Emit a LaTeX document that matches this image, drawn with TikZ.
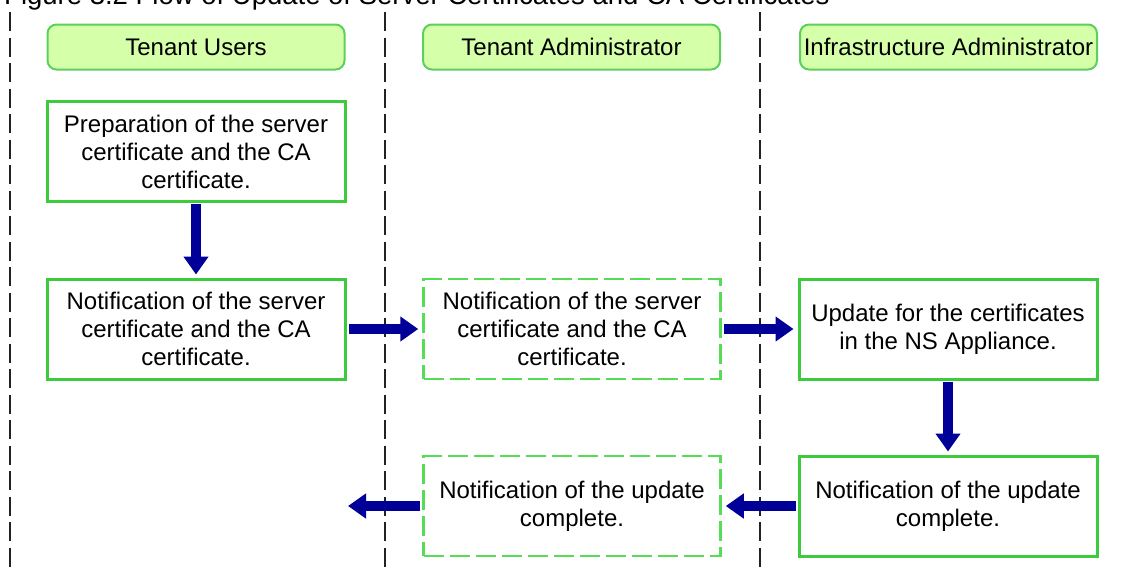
\documentclass[tikz,border=0pt]{standalone}
\usepackage{fontspec}
\setmainfont{Liberation Sans}
\usetikzlibrary{arrows.meta}
\definecolor{hdrfill}{HTML}{D6FFAA}
\definecolor{hdrline}{HTML}{5CCF5C}
\definecolor{boxline}{HTML}{3CCB3C}
\definecolor{dashline}{HTML}{55DD55}
\definecolor{arrowblue}{HTML}{000099}
\definecolor{laneline}{HTML}{222222}
\tikzset{
  every node/.style={font=\fontsize{24}{28}\selectfont, align=center, inner sep=0pt},
  header/.style={draw=hdrline, fill=hdrfill, line width=2pt, rounded corners=9pt,
    minimum width=297pt, minimum height=45pt},
  solidbox/.style={draw=boxline, line width=3pt, minimum width=298pt, minimum height=100pt},
  dashbox/.style={draw=dashline, line width=2.5pt, dash pattern=on 20pt off 6pt,
    minimum width=297pt, minimum height=100pt},
  flow/.style={draw=arrowblue, line width=10pt,
    -{Triangle[width=24pt,length=18pt]}},
  lane/.style={draw=laneline, line width=2pt, dash pattern=on 19pt off 6.5pt},
}
\begin{document}
\begin{tikzpicture}[x=1pt,y=-1pt]
\useasboundingbox (0,0) rectangle (1123,571);
\fill[white] (0,0) rectangle (1123,571);
% title (mostly cut off at the top, as in the reference)
\node[anchor=base west, font=\fontsize{27.5}{32}\selectfont] (title) at (4,4) {Figure 3.2 Flow of Update of Server Certificates and CA Certificates};
% lanes
\draw[lane] (10,12) -- (10,571);
\draw[lane] (385,12) -- (385,571);
\draw[lane] (760,12) -- (760,571);
% headers
\node[header] (h1) at (196,47) {Tenant Users};
\node[header] (h2) at (571.5,47) {Tenant Administrator};
\node[header] (h3) at (948.5,47) {Infrastructure Administrator};
% boxes
\node[solidbox] (b1) at (196,151.5) {Preparation of the server\\certificate and the CA\\certificate.};
\node[solidbox] (b2) at (196,329) {Notification of the server\\certificate and the CA\\certificate.};
\node[dashbox] (b3) at (572,329) {Notification of the server\\certificate and the CA\\certificate.};
\node[solidbox] (b4) at (948,329) {Update for the certificates\\in the NS Appliance.};
\node[dashbox] (b5) at (572,506) {Notification of the update\\complete.};
\node[solidbox] (b6) at (948,506) {Notification of the update\\complete.};
\coordinate (out) at (348,506);
% arrows
\draw[flow, shorten <=1pt, shorten >=3pt] (b1.south) -- (b2.north);
\draw[flow, shorten <=2pt, shorten >=4pt] (b2.east) -- (b3.west);
\draw[flow, shorten <=2pt, shorten >=4pt] (b3.east) -- (b4.west);
\draw[flow, shorten <=1pt, shorten >=3pt] (b4.south) -- (b6.north);
\draw[flow, shorten <=2pt, shorten >=4pt] (b6.west) -- (b5.east);
\draw[flow, shorten <=2pt] (b5.west) -- (out);
\end{tikzpicture}
\end{document}
